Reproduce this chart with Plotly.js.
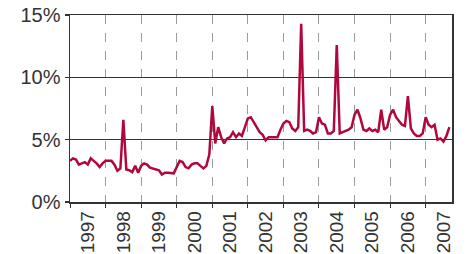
<!DOCTYPE html>
<html>
<head>
<meta charset="utf-8">
<script src="https://cdn.plot.ly/plotly-3.0.1.min.js"></script>
<style>html,body{margin:0;padding:0;background:#fff;}#chart{width:468px;height:254px;}</style>
</head>
<body>
<div id="chart"></div>
<script>
// Monthly series, Jan 1997 .. Sep 2007 (percent)
const startYear = 1997;
const values = [
  3.3, 3.5, 3.4, 3.0, 3.1, 3.2, 3.0, 3.5, 3.3, 3.1, 2.8, 3.1,
  3.3, 3.3, 3.3, 3.0, 2.5, 2.7, 6.6, 2.6, 2.55, 2.4, 2.9, 2.35,
  2.9, 3.1, 3.0, 2.75, 2.7, 2.6, 2.55, 2.2, 2.35, 2.35, 2.3, 2.3,
  2.8, 3.3, 3.2, 2.8, 2.7, 3.0, 3.1, 3.1, 2.9, 2.7, 2.9, 3.8,
  7.7, 4.7, 6.0, 5.2, 4.7, 5.1, 5.2, 5.6, 5.2, 5.5, 5.3, 6.0,
  6.7, 6.8, 6.4, 5.9, 5.6, 5.4, 4.95, 5.2, 5.2, 5.2, 5.2, 5.8,
  6.3, 6.5, 6.4, 5.9, 5.7, 6.0, 14.3, 5.7, 5.8, 5.7, 5.5, 5.6,
  6.8, 6.3, 6.2, 5.5, 5.5, 5.7, 12.6, 5.5, 5.6, 5.7, 5.8, 6.0,
  7.0, 7.4, 6.7, 5.8, 5.7, 5.9, 5.7, 5.8, 5.6, 7.4, 5.8, 6.0,
  7.0, 7.4, 6.8, 6.5, 6.2, 6.1, 8.5, 5.9, 5.5, 5.3, 5.3, 5.5,
  6.8, 6.2, 6.0, 6.2, 5.0, 5.1, 4.85, 5.3, 6.0
];
const yearLabels = ["1997","1998","1999","2000","2001","2002","2003","2004","2005","2006","2007"];
const yTicks = [0, 5, 10, 15];
const yTickLabels = ["0%", "5%", "10%", "15%"];

const xs = values.map((v, i) => startYear + i / 12);
const yearCenters = yearLabels.map(y => Number(y) + 0.5);

const xfont = {family: "Liberation Sans, Arial, sans-serif", size: 19, color: "#333"};
const yfont = {family: "Liberation Sans, Arial, sans-serif", size: 20, color: "#333"};

Plotly.newPlot("chart", [{
  x: xs, y: values, type: "scatter", mode: "lines",
  line: {color: "#b0083c", width: 2.5}, hoverinfo: "skip"
}], {
  width: 468, height: 254,
  margin: {l: 70, r: 16, t: 15, b: 52},
  paper_bgcolor: "#fff", plot_bgcolor: "#fff",
  showlegend: false,
  font: xfont,
  xaxis: {
    range: [1997, 2007.74],
    tickmode: "array", tickvals: yearCenters, ticktext: yearLabels,
    tickangle: -90, ticks: "", showgrid: false, zeroline: false,
    showline: true, linecolor: "#333", linewidth: 1.5, mirror: true,
    tickfont: xfont,
    minor: {tickmode: "linear", tick0: 1997, dtick: 1, showgrid: true,
            gridcolor: "#9a9a9a", griddash: "dash", gridwidth: 1,
            ticks: "outside", ticklen: 4, tickcolor: "#333", tickwidth: 1}
  },
  yaxis: {
    range: [0, 15], tickmode: "array", tickvals: yTicks, ticktext: yTickLabels,
    ticks: "outside", ticklen: 4, tickcolor: "#333", tickwidth: 1.5,
    showgrid: true, gridcolor: "#333", gridwidth: 1.5, zeroline: false,
    showline: true, linecolor: "#333", linewidth: 1.5, mirror: true,
    tickfont: yfont
  }
}, {staticPlot: true});
</script>
</body>
</html>
